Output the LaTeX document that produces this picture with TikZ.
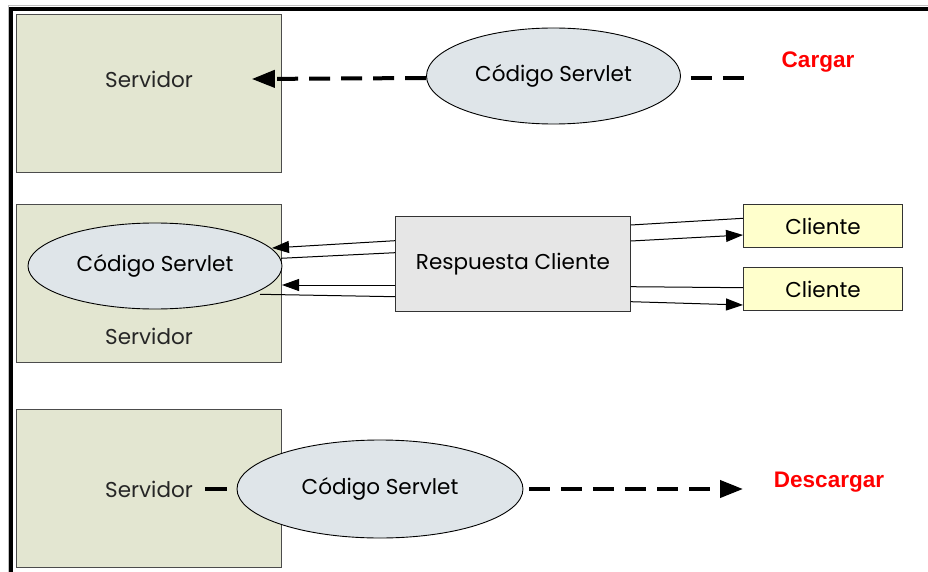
\documentclass[tikz,border=0pt]{standalone}
\usepackage{fontspec}
\setmainfont{Poppins}
\newfontfamily\redfont{Liberation Sans}
\usetikzlibrary{shapes.geometric,arrows.meta,calc}
\definecolor{srvfill}{HTML}{E3E6D1}
\definecolor{elfill}{HTML}{DFE5E9}
\definecolor{respfill}{HTML}{E6E6E6}
\definecolor{clifill}{HTML}{FFFFCC}
\definecolor{redtxt}{HTML}{FF0000}
\begin{document}
\begin{tikzpicture}[x=1pt,y=-1pt,
  every node/.style={font=\fontsize{21.5}{25}\selectfont},
  srvbox/.style={draw=black!70,fill=srvfill,line width=0.8pt,anchor=north west,
    minimum width=265pt,minimum height=158pt,inner sep=0pt},
  txt/.style={inner sep=0pt,text=black!85},
  cod/.style={ellipse,draw=black,fill=elfill,line width=0.9pt,inner sep=0pt},
  respbox/.style={draw=black!80,fill=respfill,line width=0.9pt,anchor=north west,
    minimum width=235pt,minimum height=95pt,inner sep=0pt},
  clibox/.style={draw=black!80,fill=clifill,line width=0.9pt,anchor=north west,
    minimum width=159pt,minimum height=43pt,inner sep=0pt},
  redlbl/.style={inner sep=0pt,text=redtxt,font=\redfont\bfseries\fontsize{22.5}{26}\selectfont},
  dashln/.style={line width=4pt,dash pattern=on 21pt off 11pt},
  tipA/.style={-{Triangle[length=23pt,width=17pt]}},
  thinln/.style={line width=1pt,black},
  tipB/.style={-{Triangle[length=17pt,width=12pt]}},
]
\useasboundingbox (0,0) rectangle (928,572);
% frame
\draw[black!25,line width=1pt] (8,6) -- (928,6);
\draw[black!25,line width=1pt] (8,6) -- (8,572);
\draw[black,line width=4pt] (9,8.7) -- (928,8.7);
\draw[black,line width=3.5pt] (11,7) -- (11,572);

% row 1
\node[srvbox] (s1) at (16,14) {};
\node[txt] (s1t) at (149,79) {Servidor};
\node[cod,minimum width=254pt,minimum height=96pt] (e1) at (553.5,76) {Código Servlet};
\coordinate (c1) at (745,78);
\draw[dashln,tipA] ($(e1.west)+(0,2)$) -- ($(s1.north east)+(-30,65)$);
\draw[dashln] ($(e1.east)+(10,2)$) -- (c1);
\node[redlbl] (cargar) at (818,62) {Cargar};

% row 2
\node[srvbox] (s2) at (16,204) {};
\node[txt] (s2t) at (149,336) {Servidor};
\node[cod,minimum width=254pt,minimum height=86pt] (e2) at (155,266) {Código Servlet};
\node[respbox] (r) at (395,216) {Respuesta Cliente};
\node[clibox] (k1) at (743,204) {Cliente};
\node[clibox] (k2) at (743,267) {Cliente};

\draw[thinln,tipB] ($(r.north west)+(0,24.7)$) -- ($(e2.center)+(117,-18)$);
\draw[thinln] ($(r.north west)+(0,36.7)$) -- ($(e2.center)+(126,-7.7)$);
\draw[thinln,tipB] ($(r.north west)+(0,69)$) -- ($(e2.center)+(127,19)$);
\draw[thinln] ($(r.north west)+(0,80.7)$) -- ($(e2.center)+(105,28.3)$);

\draw[thinln] ($(r.north east)+(0,9)$) -- ($(k1.north west)+(0,14.3)$);
\draw[thinln,tipB] ($(r.north east)+(0,25)$) -- ($(k1.north west)+(0,31)$);
\draw[thinln] ($(r.north east)+(0,70.7)$) -- ($(k2.north west)+(0,20.7)$);
\draw[thinln,tipB] ($(r.north east)+(0,85.7)$) -- ($(k2.north west)+(0,38)$);

% row 3
\node[srvbox] (s3) at (16,409) {};
\node[txt] (s3t) at (149,489) {Servidor};
\node[cod,minimum width=286pt,minimum height=98pt] (e3) at (380,489) {Código Servlet};
\coordinate (c3) at (743,489);
\draw[line width=4pt] ($(s3t.east)+(12,0)$) -- ($(e3.west)+(-10,0)$);
\draw[dashln,tipA] ($(e3.east)+(6,0)$) -- (c3);
\node[redlbl] (descargar) at (829,482) {Descargar};
\end{tikzpicture}
\end{document}
